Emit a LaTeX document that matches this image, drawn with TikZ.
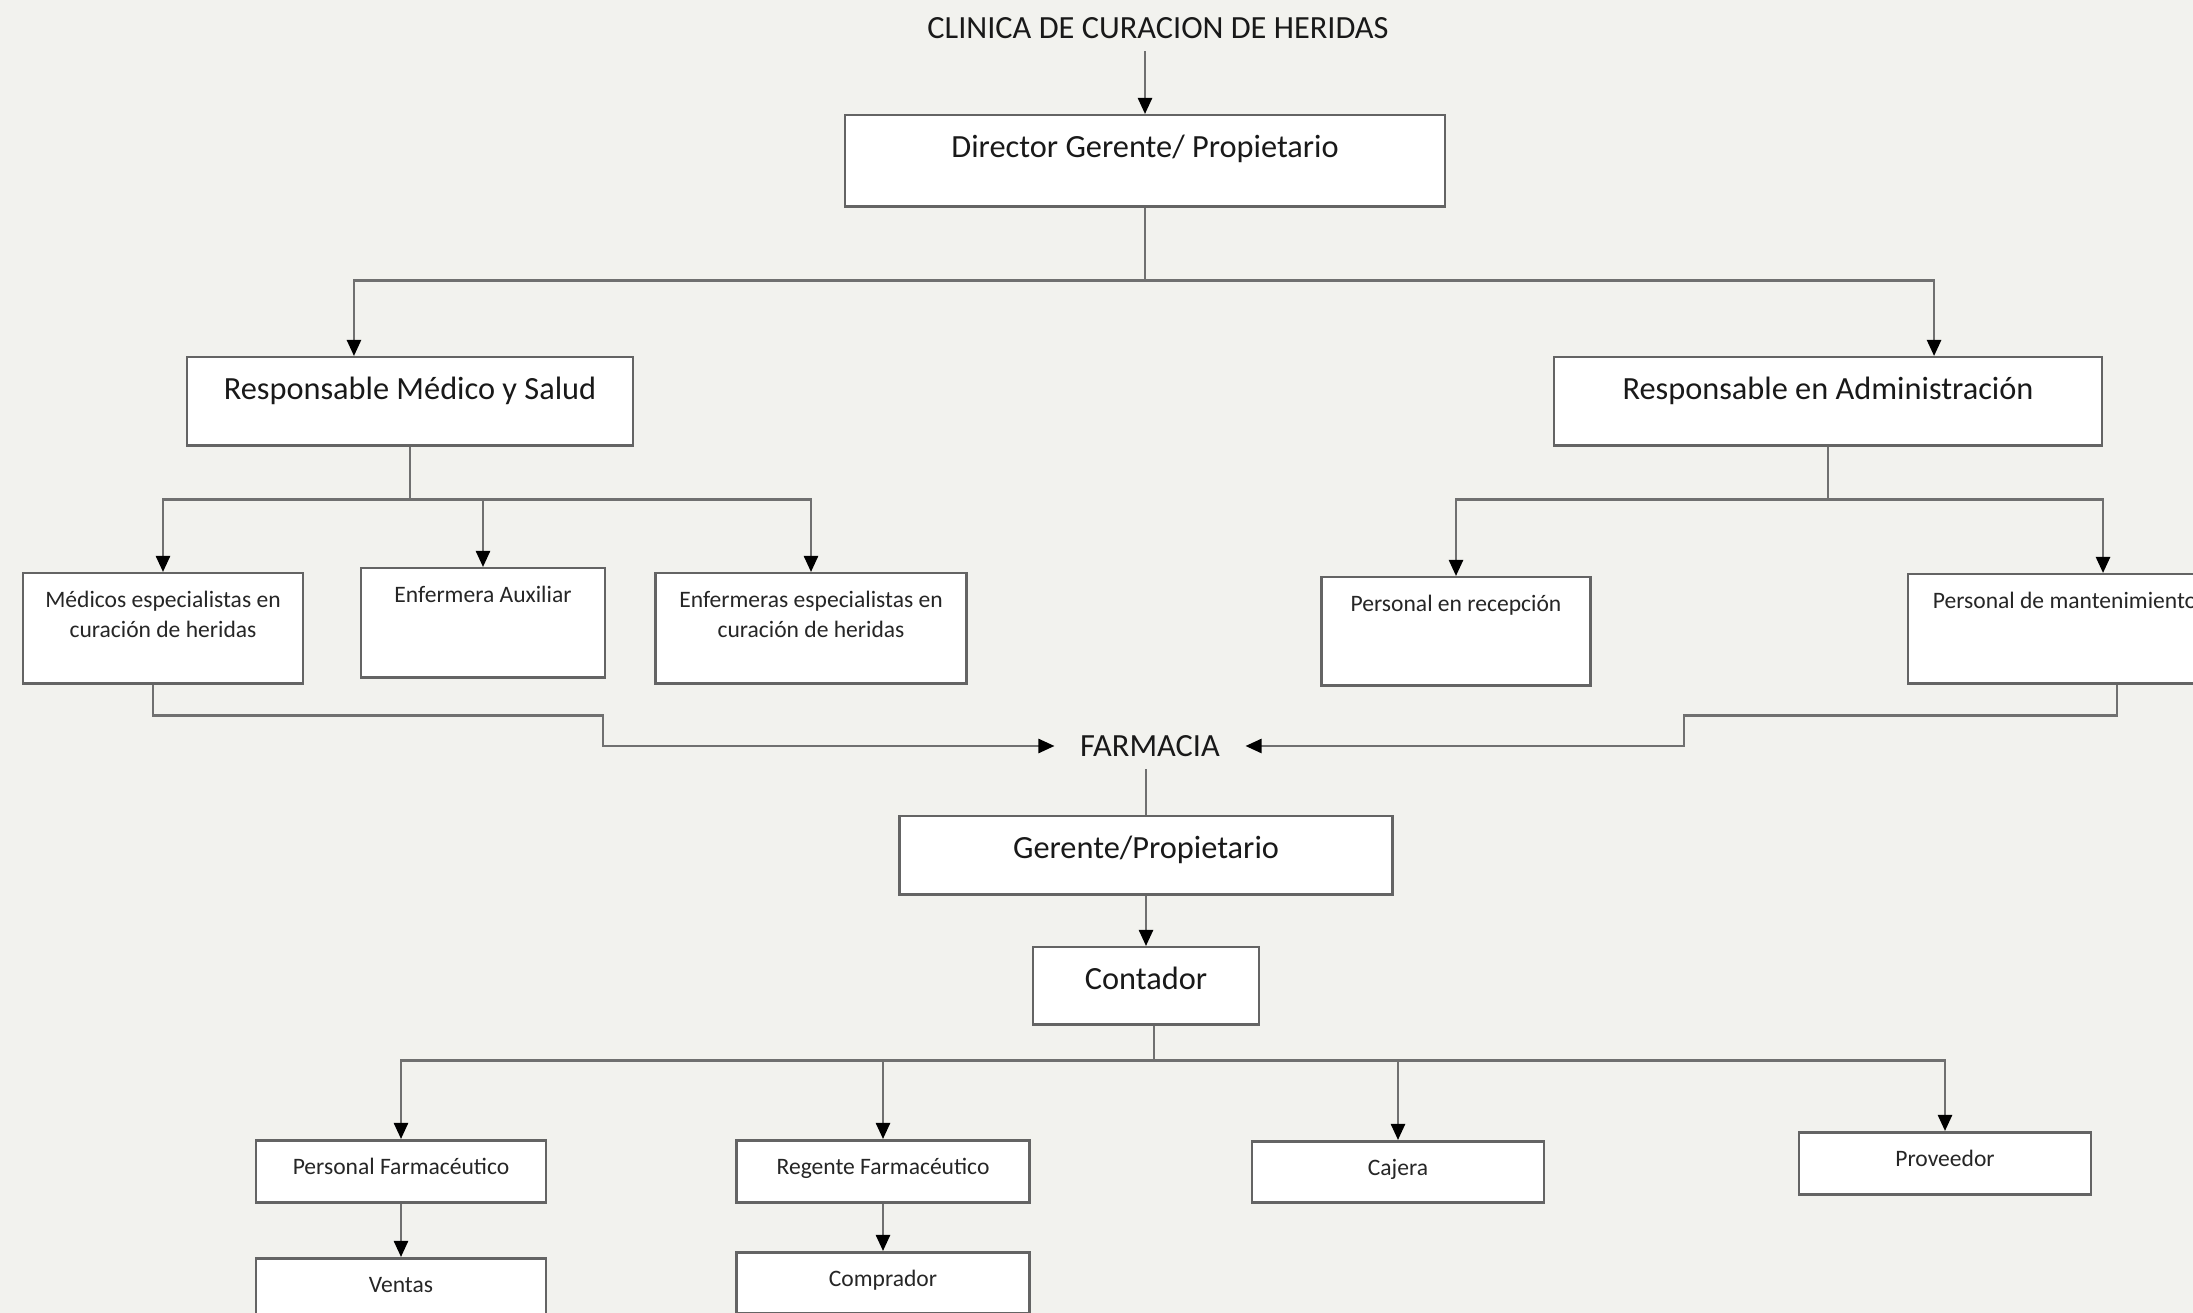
\documentclass[tikz,border=0pt]{standalone}
\usepackage{fontspec}
\setmainfont{Carlito}
\usetikzlibrary{arrows.meta,shadows}
\definecolor{fondo}{RGB}{242,242,238}
\definecolor{linea}{RGB}{112,112,112}
\definecolor{borde}{RGB}{100,100,100}
\newcommand{\letragrande}{\fontsize{9.2}{11}\selectfont}
\newcommand{\letrachica}{\fontsize{6.7}{8.5}\selectfont}
\begin{document}
\begin{tikzpicture}[x=0.01cm, y=-0.01cm,
    caja/.style={draw=borde, line width=0.025cm, fill=white, anchor=north, inner xsep=0pt, inner ysep=0pt, align=center,
      drop shadow={shadow xshift=0.004cm, shadow yshift=-0.012cm, fill=black!25, opacity=1}},
    cargo/.style 2 args={caja, font=\letragrande, text=black!90, minimum width=#1, text height=0.42cm, text depth=#2},
    puesto/.style 2 args={caja, font=\letrachica, text=black!85, minimum width=#1, text height=0.34cm, text depth=#2},
    conector/.style={draw=linea, line width=0.024cm},
    flecha/.style={conector, -{Triangle[length=0.16cm, width=0.14cm, color=black]}}]
  \useasboundingbox (0,0) rectangle (2193,1313);
  \clip (0,0) rectangle (2193,1313);
  \fill[fondo] (0,0) rectangle (2193,1313);

  \node (titulo)[font=\letragrande, text=black!90] at (1158,28) {CLINICA DE CURACION DE HERIDAS};
  \node (dir)[cargo={6.00cm}{0.49cm}] at (1145,114) {Director Gerente/ Propietario};
  \node (med)[cargo={4.46cm}{0.46cm}] at (410,356) {Responsable Médico y Salud};
  \node (adm)[cargo={5.48cm}{0.46cm}] at (1828,356) {Responsable en Administración};

  \node (medesp)[puesto={2.80cm}{0.46cm}, text height=0.64cm] at (163,572) {Médicos especialistas en\\curación de heridas};
  \node (enfaux)[puesto={2.44cm}{0.75cm}] at (483,567) {Enfermera Auxiliar};
  \node (enfesp)[puesto={3.11cm}{0.46cm}, text height=0.64cm] at (811,572) {Enfermeras especialistas en\\curación de heridas};
  \node (recep)[puesto={2.69cm}{0.74cm}] at (1456,576) {Personal en recepción};
  \node (mant)[puesto={3.14cm}{0.75cm}] at (2065,573) {Personal de mantenimiento};

  \node (farm)[font=\letragrande, text=black!90, inner xsep=0.25cm] at (1150,746) {FARMACIA};
  \node (ger)[cargo={4.93cm}{0.36cm}] at (1146,815) {Gerente/Propietario};
  \node (cont)[cargo={2.26cm}{0.35cm}] at (1146,946) {Contador};

  \node (pfar)[puesto={2.90cm}{0.28cm}] at (401,1139) {Personal Farmacéutico};
  \node (reg)[puesto={2.93cm}{0.28cm}] at (883,1139) {Regente Farmacéutico};
  \node (caj)[puesto={2.92cm}{0.27cm}] at (1398,1140) {Cajera};
  \node (prov)[puesto={2.92cm}{0.28cm}] at (1945,1131) {Proveedor};
  \node (vent)[puesto={2.90cm}{0.28cm}] at (401,1257) {Ventas};
  \node (comp)[puesto={2.93cm}{0.27cm}] at (883,1251) {Comprador};

  \draw[flecha] (titulo.south -| dir.north) -- (dir.north);
  \draw[conector] (dir.south) -- ++(0,73) coordinate (rama1);
  \draw[flecha] (rama1) -| ([xshift=-0.56cm]med.north);
  \draw[flecha] (rama1) -| ([xshift=1.06cm]adm.north);

  \draw[conector] (med.south) -- ++(0,53) coordinate (rama2);
  \draw[flecha] (rama2) -| (medesp.north);
  \draw[flecha] (rama2) -| (enfaux.north);
  \draw[flecha] (rama2) -| (enfesp.north);

  \draw[conector] (adm.south) -- ++(0,53) coordinate (rama3);
  \draw[flecha] (rama3) -| (recep.north);
  \draw[flecha] (rama3) -| ([xshift=0.38cm]mant.north);

  \draw[flecha] ([xshift=-0.1cm]medesp.south) |- ++(450,31) |- (farm.west);
  \draw[flecha] ([xshift=0.52cm]mant.south) |- ++(-433,31) |- (farm.east);

  \draw[conector] (farm.south -| ger.north) -- (ger.north);
  \draw[flecha] (ger.south) -- (cont.north);
  \draw[conector] ([xshift=0.08cm]cont.south) -- ++(0,35) coordinate (rama4);
  \draw[flecha] (rama4) -| (pfar.north);
  \draw[flecha] (rama4) -| (reg.north);
  \draw[flecha] (rama4) -| (caj.north);
  \draw[flecha] (rama4) -| (prov.north);

  \draw[flecha] (pfar.south) -- (vent.north);
  \draw[flecha] (reg.south) -- (comp.north);
\end{tikzpicture}
\end{document}
